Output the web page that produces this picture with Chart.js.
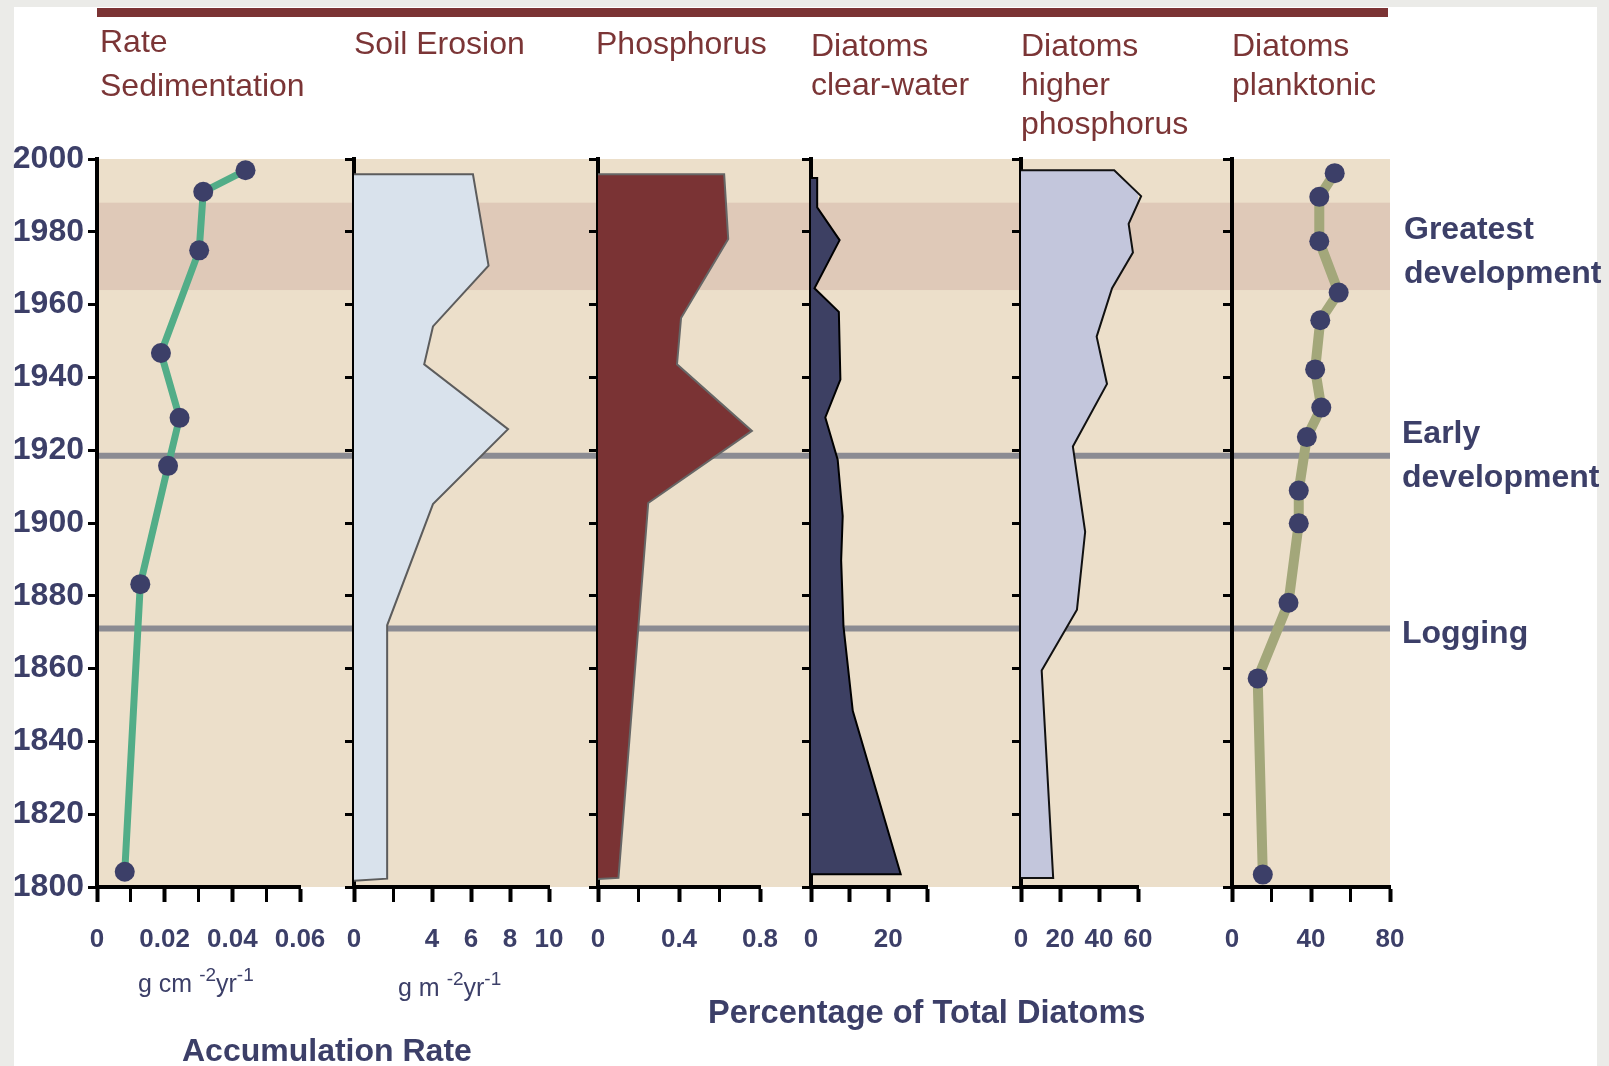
<!DOCTYPE html>
<html><head><meta charset="utf-8">
<script src="https://cdn.jsdelivr.net/npm/chart.js@4.4.1/dist/chart.umd.min.js"></script>
<style>
html,body{margin:0;padding:0;background:#ebebe8;width:1609px;height:1066px;overflow:hidden;}
#page{position:absolute;left:14px;top:7px;width:1583px;height:1059px;background:#fff;}
#wrap{position:absolute;left:0;top:0;width:1609px;height:1066px;}
#wrap canvas{position:absolute;top:0;}
.t{position:absolute;font-family:"Liberation Sans",Arial,sans-serif;white-space:nowrap;}
.head{color:#7b3536;font-size:32px;line-height:44px;}
.head2{color:#7b3536;font-size:32px;line-height:39px;}
.lab{color:#3c3f68;font-size:32px;font-weight:bold;line-height:44px;}
.unit{color:#3c3f68;font-size:25px;line-height:30px;}
.unit sup{font-size:19px;vertical-align:0;position:relative;top:-11px;}
#bar{position:absolute;left:97px;top:8px;width:1291px;height:9px;background:#7b3334;}
</style></head>
<body>
<div id="page"></div>
<div id="bar"></div>
<div id="wrap"></div>

<div class="t head" style="left:100px;top:19px;">Rate<br>Sedimentation</div>
<div class="t head" style="left:354px;top:21px;">Soil Erosion</div>
<div class="t head" style="left:596px;top:21px;">Phosphorus</div>
<div class="t head2" style="left:811px;top:26px;">Diatoms<br>clear-water</div>
<div class="t head2" style="left:1021px;top:26px;">Diatoms<br>higher<br>phosphorus</div>
<div class="t head2" style="left:1232px;top:26px;">Diatoms<br>planktonic</div>

<div class="t lab" style="left:1404px;top:206px;">Greatest<br>development</div>
<div class="t lab" style="left:1402px;top:410px;">Early<br>development</div>
<div class="t lab" style="left:1402px;top:610px;">Logging</div>

<div class="t unit" style="left:138px;top:968px;">g cm <sup>-2</sup>yr<sup>-1</sup></div>
<div class="t unit" style="left:398px;top:972px;">g m <sup>-2</sup>yr<sup>-1</sup></div>
<div class="t lab" style="left:182px;top:1028px;">Accumulation Rate</div>
<div class="t lab" style="left:708px;top:990px;font-size:32.6px;">Percentage of Total Diatoms</div>

<script>
// ---------------- DATA ----------------
const yearTicks = [1800, 1820, 1840, 1860, 1880, 1900, 1920, 1940, 1960, 1980, 2000];

const sedYear = [1996.9, 1991, 1974.9, 1946.7, 1928.9, 1915.7, 1883.2, 1804.2];
const sedRate = [0.0439, 0.0314, 0.0302, 0.0189, 0.0244, 0.021, 0.0128, 0.0082];

const soilYear = [1995.8, 1995.8, 1970.7, 1954, 1943.6, 1925.8, 1905.2, 1871.9, 1802.3, 1801.7];
const soilRate = [0, 6.1, 6.9, 4.05, 3.6, 7.9, 4.05, 1.7, 1.7, 0];

const phosYear = [1995.8, 1995.8, 1978, 1956.3, 1943.6, 1925.3, 1905.5, 1802.5, 1802.2];
const phosRate = [0, 0.623, 0.643, 0.41, 0.39, 0.76, 0.248, 0.101, 0];

const clearYear = [1994.8, 1994.8, 1986.7, 1977.7, 1964.5, 1958, 1939.4, 1929, 1917.4, 1901.9, 1889.7, 1871.6, 1848.4, 1803.5, 1803.5];
const clearPct  = [0, 1.6, 1.6, 7.4, 0.9, 7.2, 7.6, 3.7, 6.9, 8.2, 7.8, 8.4, 10.8, 23.2, 0];

const higherYear = [1996.9, 1996.9, 1989.8, 1982.2, 1974.3, 1964.5, 1951.2, 1938.2, 1921, 1897.6, 1876.2, 1859.5, 1802.5, 1802.5];
const higherPct  = [0, 47.8, 61.6, 55.2, 57.4, 46.7, 38.8, 44.1, 26.6, 32.9, 28.7, 10.6, 16.5, 0];

const plankYear = [1996.1, 1989.6, 1977.4, 1963.3, 1955.7, 1942.2, 1931.7, 1923.6, 1908.9, 1899.9, 1878.1, 1857.3, 1803.4];
const plankPct  = [52, 44.2, 44.2, 54, 44.7, 42.1, 45.2, 37.9, 33.8, 33.8, 28.6, 13, 15.6];

const sedTickLabels    = [0, 0.02, 0.04, 0.06];
const soilTickLabels   = [0, 4, 6, 8, 10];
const phosTickLabels   = [0, 0.4, 0.8];
const clearTickLabels  = [0, 20];
const higherTickLabels = [0, 20, 40, 60];
const plankTickLabels  = [0, 40, 80];

const bandYears = [1964, 1988];        // "Greatest development"
const eventYears = [1918.5, 1871];     // "Early development", "Logging"

// ---------------- STYLE / LAYOUT ----------------
const W = 1609, H = 1066, TOP = 159, BOTTOM = 887, XH = 80;
const FONT = '"Liberation Sans", Arial, sans-serif';
const NAVY = '#3c3f68';
const pts = (xs, ys) => xs.map((x, i) => ({x: x, y: ys[i]}));

const wrap = document.getElementById('wrap');
function addCanvas(left, width) {
  const c = document.createElement('canvas');
  c.width = width; c.height = H;
  c.style.left = left + 'px';
  c.style.width = width + 'px'; c.style.height = H + 'px';
  wrap.appendChild(c);
  return c;
}

// background chart: beige area, band, event lines
const bgPlugin = {
  id: 'bgPlugin',
  beforeDatasetsDraw(chart) {
    const {ctx, chartArea: a} = chart;
    const y = chart.scales.y;
    ctx.save();
    ctx.fillStyle = '#ecdfca';
    ctx.fillRect(a.left, a.top, a.right - a.left, a.bottom - a.top);
    const b1 = y.getPixelForValue(bandYears[1]), b0 = y.getPixelForValue(bandYears[0]);
    ctx.fillStyle = '#dfc9b8';
    ctx.fillRect(a.left, b1, a.right - a.left, b0 - b1);
    ctx.strokeStyle = '#8b8b92';
    ctx.lineWidth = 6;
    eventYears.forEach(ev => {
      const py = y.getPixelForValue(ev);
      ctx.beginPath(); ctx.moveTo(a.left, py); ctx.lineTo(a.right, py); ctx.stroke();
    });
    ctx.restore();
  }
};
new Chart(addCanvas(0, W), {
  type: 'line',
  data: {datasets: []},
  options: {
    responsive: false, animation: false, events: [],
    layout: {padding: {left: 97, right: W - 1390, top: TOP, bottom: H - BOTTOM}},
    plugins: {legend: {display: false}, tooltip: {enabled: false}},
    scales: {
      x: {type: 'linear', display: false, min: 0, max: 1},
      y: {type: 'linear', display: false, min: 1800, max: 2000}
    }
  },
  plugins: [bgPlugin]
});

function near(list, v) { return list.some(l => Math.abs(l - v) < 1e-9); }

function makePanel(p, datasets) {
  const yW = p.first ? p.axisX : 50;
  const padRight = 80;
  const width = yW + (p.maxX - p.axisX) + padRight;
  const c = addCanvas(p.axisX - yW, width);
  new Chart(c, {
    type: 'line',
    data: {datasets: datasets},
    options: {
      responsive: false, animation: false, events: [],
      layout: {padding: {left: 0, right: padRight, top: TOP, bottom: H - BOTTOM - XH}},
      plugins: {legend: {display: false}, tooltip: {enabled: false}},
      elements: {line: {tension: 0}},
      scales: {
        x: {
          type: 'linear', min: p.min, max: p.max, z: 1,
          afterFit(s) { s.height = XH; },
          border: {display: true, color: '#000', width: 4},
          grid: {display: true, drawOnChartArea: false, drawTicks: true, tickLength: 15,
                 tickColor: '#000',
                 tickWidth: ctx => near(p.major, Math.round(ctx.tick.value * 1e6) / 1e6) ? 4 : 3},
          ticks: {
            stepSize: p.step, autoSkip: false, maxRotation: 0, minRotation: 0, padding: 22,
            color: NAVY, font: {family: FONT, size: 26, weight: 'bold'},
            callback: v => {
              const r = Math.round(v * 1e6) / 1e6;
              return near(p.labels, r) ? String(r) : '';
            }
          }
        },
        y: {
          type: 'linear', min: 1800, max: 2000, z: 1,
          afterFit(s) { s.width = yW; },
          border: {display: true, color: '#000', width: 4},
          grid: {display: true, drawOnChartArea: false, drawTicks: true, tickLength: 9,
                 tickColor: '#000', tickWidth: 3},
          ticks: {
            display: !!p.first, stepSize: 20, padding: 4, autoSkip: false,
            color: NAVY, font: {family: FONT, size: 32, weight: 'bold'},
            callback: v => near(yearTicks, v) ? String(v) : ''
          }
        }
      }
    }
  });
}

function polygon(data, fillColor, strokeColor) {
  return {data: data, fill: 'shape', backgroundColor: fillColor, borderColor: strokeColor,
          borderWidth: 2, pointRadius: 0, clip: false, borderJoinStyle: 'miter'};
}
function dotted(data, lineColor, lineWidth) {
  return {data: data, fill: false, borderColor: lineColor, borderWidth: lineWidth,
          pointRadius: 10, pointBackgroundColor: NAVY, pointBorderWidth: 0, clip: false,
          borderJoinStyle: 'round'};
}

makePanel({first: true, axisX: 97, maxX: 300, min: 0, max: 0.06, step: 0.01,
           labels: sedTickLabels, major: [0, 0.02, 0.04, 0.06]},
          [dotted(pts(sedRate, sedYear), '#52ad88', 7)]);
makePanel({axisX: 354, maxX: 549, min: 0, max: 10, step: 2,
           labels: soilTickLabels, major: [0, 4, 6, 8, 10]},
          [polygon(pts(soilRate, soilYear), '#d9e2ec', '#5c5c5c')]);
makePanel({axisX: 598, maxX: 760, min: 0, max: 0.8, step: 0.2,
           labels: phosTickLabels, major: [0, 0.4, 0.8]},
          [polygon(pts(phosRate, phosYear), '#7a3334', '#666666')]);
makePanel({axisX: 811, maxX: 927, min: 0, max: 30, step: 10,
           labels: clearTickLabels, major: [0, 10, 20, 30]},
          [polygon(pts(clearPct, clearYear), '#3d4063', '#000000')]);
makePanel({axisX: 1021, maxX: 1138, min: 0, max: 60, step: 20,
           labels: higherTickLabels, major: [0, 20, 40, 60]},
          [polygon(pts(higherPct, higherYear), '#c3c6dc', '#111111')]);
makePanel({axisX: 1232, maxX: 1390, min: 0, max: 80, step: 20,
           labels: plankTickLabels, major: [0, 40, 80]},
          [dotted(pts(plankPct, plankYear), '#a3a77a', 10)]);
</script>
</body></html>
